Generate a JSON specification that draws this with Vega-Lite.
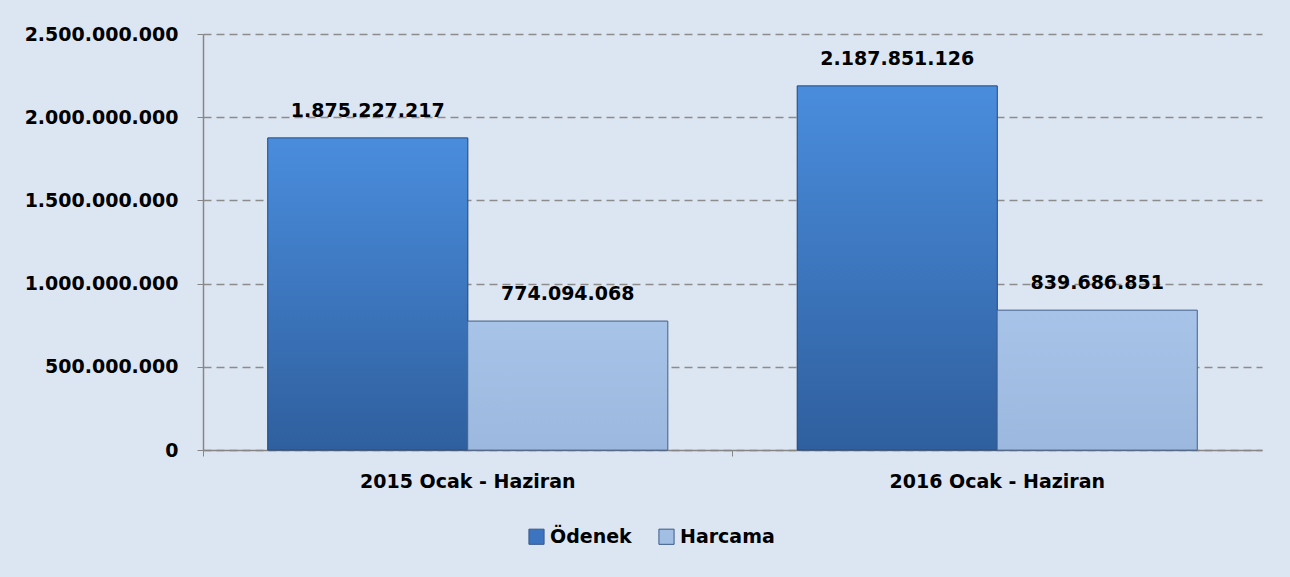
{
  "$schema": "https://vega.github.io/schema/vega-lite/v6.json",
  "width": 1059,
  "height": 416,
  "autosize": {"type": "none"},
  "padding": {"left": 203, "top": 34, "right": 28, "bottom": 127},
  "background": "#dce6f2",
  "config": {
    "view": {"stroke": null},
    "font": "DejaVu Sans"
  },
  "data": {
    "values": [
      {"donem": "2015 Ocak - Haziran", "seri": "Ödenek", "tutar": 1875227217, "etiket": "1.875.227.217"},
      {"donem": "2015 Ocak - Haziran", "seri": "Harcama", "tutar": 774094068, "etiket": "774.094.068"},
      {"donem": "2016 Ocak - Haziran", "seri": "Ödenek", "tutar": 2187851126, "etiket": "2.187.851.126"},
      {"donem": "2016 Ocak - Haziran", "seri": "Harcama", "tutar": 839686851, "etiket": "839.686.851"}
    ]
  },
  "encoding": {
    "x": {
      "field": "donem", "type": "nominal",
      "scale": {"paddingInner": 0, "paddingOuter": 0},
      "axis": {
        "title": null, "labelAngle": 0, "bandPosition": 0, "labelLimit": 0,
        "labelFont": "DejaVu Sans", "labelFontWeight": "bold", "labelFontSize": 19, "labelColor": "#000000",
        "labelPadding": 16, "tickSize": 6, "tickColor": "#868686", "domainColor": "#868686", "domainWidth": 1.5,
        "labelBaseline": "top"
      }
    },
    "xOffset": {
      "field": "seri", "type": "nominal",
      "scale": {"domain": ["Ödenek", "Harcama"], "paddingInner": 0, "paddingOuter": 0.324}
    },
    "y": {
      "field": "tutar", "type": "quantitative",
      "scale": {"domain": [0, 2500000000], "nice": false},
      "axis": {
        "title": null, "values": [0, 500000000, 1000000000, 1500000000, 2000000000, 2500000000],
        "labelExpr": "replace(format(datum.value, ','), /,/g, '.')",
        "labelFont": "DejaVu Sans", "labelFontWeight": "bold", "labelFontSize": 19, "labelColor": "#000000",
        "labelPadding": 19, "tickSize": 6, "tickColor": "#868686", "domainColor": "#868686", "domainWidth": 1.5,
        "grid": true, "gridColor": "#8c8c8c", "gridDash": [8, 5], "gridWidth": 1.5
      }
    }
  },
  "layer": [
    {
      "mark": {"type": "bar", "stroke": "#2f4f7f", "strokeWidth": 0.8},
      "encoding": {
        "color": {
          "field": "seri", "type": "nominal",
          "scale": {"domain": ["Ödenek", "Harcama"], "range": ["#3c74bf", "#a3bee3"]},
          "legend": {
            "title": null, "orient": "none", "direction": "horizontal",
            "legendX": 324, "legendY": 493,
            "symbolType": "square", "symbolSize": 230, "symbolStrokeColor": "#3a5a8a", "symbolStrokeWidth": 1,
            "labelFont": "DejaVu Sans", "labelFontWeight": "bold", "labelFontSize": 19, "labelColor": "#000000",
            "labelOffset": 4, "columnPadding": 24
          }
        }
      }
    },
    {
      "transform": [{"filter": "datum.seri === 'Ödenek'"}],
      "mark": {
        "type": "bar", "stroke": "#2a4a78", "strokeWidth": 0.8,
        "color": {"gradient": "linear", "x1": 0, "y1": 0, "x2": 0, "y2": 1,
          "stops": [{"offset": 0, "color": "#4a8ddd"}, {"offset": 1, "color": "#2f5f9e"}]}
      }
    },
    {
      "transform": [{"filter": "datum.seri === 'Harcama'"}],
      "mark": {
        "type": "bar", "stroke": "#4a6690", "strokeWidth": 0.8,
        "color": {"gradient": "linear", "x1": 0, "y1": 0, "x2": 0, "y2": 1,
          "stops": [{"offset": 0, "color": "#a8c3e8"}, {"offset": 1, "color": "#9cb8de"}]}
      }
    },
    {
      "mark": {"type": "text", "font": "DejaVu Sans", "fontWeight": "bold", "fontSize": 19, "color": "#000000", "baseline": "alphabetic", "dy": -21},
      "encoding": {"text": {"field": "etiket"}}
    }
  ]
}
